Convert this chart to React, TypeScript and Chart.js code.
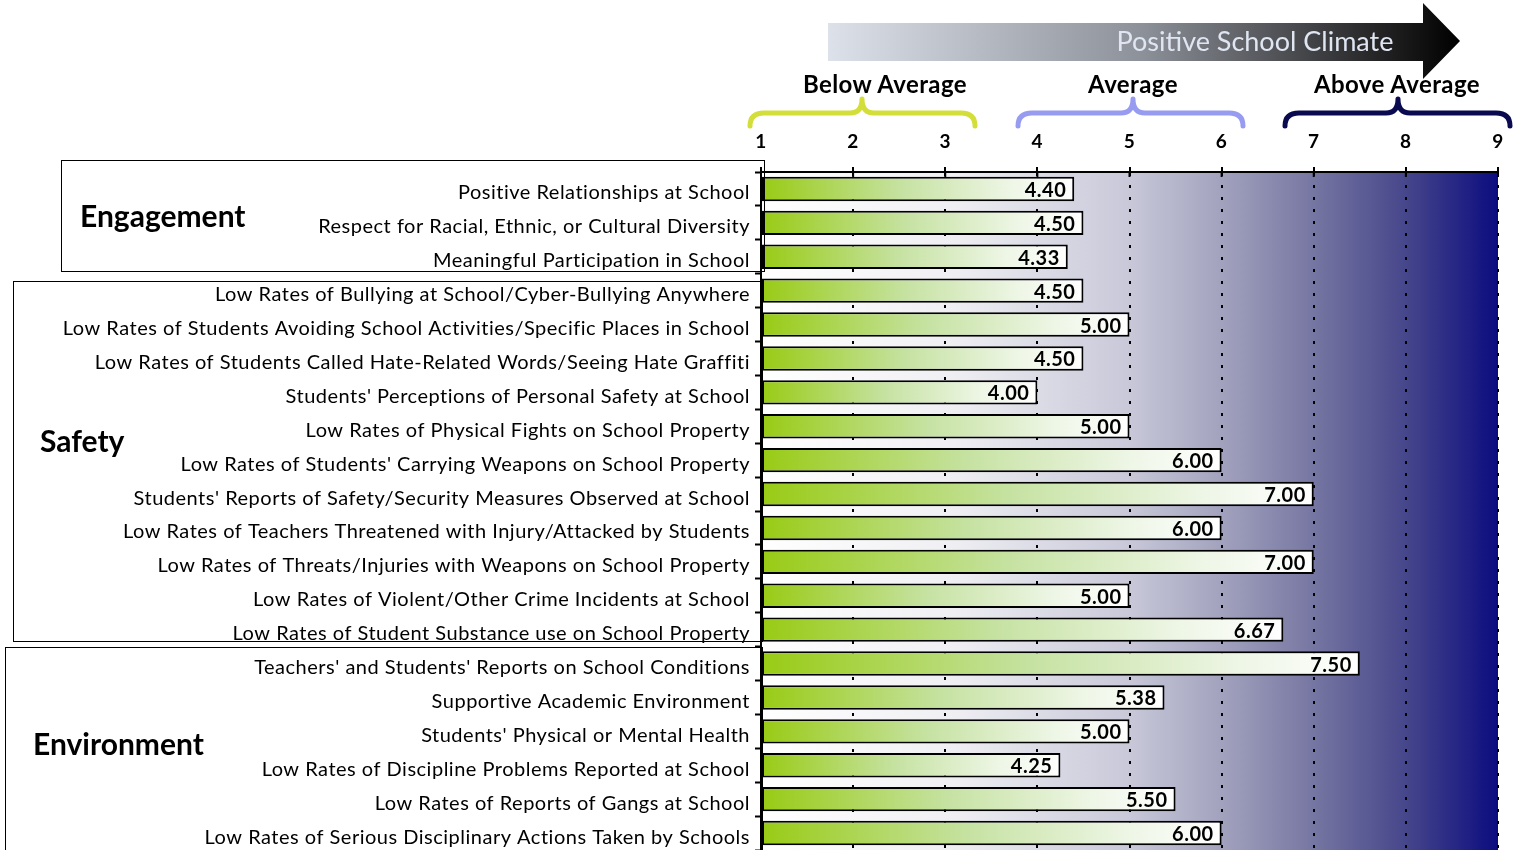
import React, { useEffect, useRef } from "react";
import { Chart, registerables } from "chart.js";

Chart.register(...registerables);

const categories: string[] = [
  "Positive Relationships at School",
  "Respect for Racial, Ethnic, or Cultural Diversity",
  "Meaningful Participation in School",
  "Low Rates of Bullying at School/Cyber-Bullying Anywhere",
  "Low Rates of Students Avoiding School Activities/Specific Places in School",
  "Low Rates of Students Called Hate-Related Words/Seeing Hate Graffiti",
  "Students' Perceptions of Personal Safety at School",
  "Low Rates of Physical Fights on School Property",
  "Low Rates of Students' Carrying Weapons on School Property",
  "Students' Reports of Safety/Security Measures Observed at School",
  "Low Rates of Teachers Threatened with Injury/Attacked by Students",
  "Low Rates of Threats/Injuries with Weapons on School Property",
  "Low Rates of Violent/Other Crime Incidents at School",
  "Low Rates of Student Substance use on School Property",
  "Teachers' and Students' Reports on School Conditions",
  "Supportive Academic Environment",
  "Students' Physical or Mental Health",
  "Low Rates of Discipline Problems Reported at School",
  "Low Rates of Reports of Gangs at School",
  "Low Rates of Serious Disciplinary Actions Taken by Schools",
];

const scores: number[] = [
  4.4, 4.5, 4.33, 4.5, 5.0, 4.5, 4.0, 5.0, 6.0, 7.0, 6.0, 7.0, 5.0, 6.67, 7.5,
  5.38, 5.0, 4.25, 5.5, 6.0,
];

const scaleMin = 1;
const scaleMax = 9;

const climateLevels: string[] = ["Below Average", "Average", "Above Average"];
const groupNames: string[] = ["Engagement", "Safety", "Environment"];
const arrowTitle = "Positive School Climate";

const FONT = "Lato, 'Open Sans', sans-serif";

const bgPlugin = {
  id: "bgGradient",
  beforeDraw(chart: any) {
    const { ctx, chartArea } = chart;
    if (!chartArea) return;
    try {
      (ctx as any).letterSpacing = "0.5px";
    } catch (e) {}
    const g = ctx.createLinearGradient(chartArea.left, 0, chartArea.right, 0);
    g.addColorStop(0, "#ffffff");
    g.addColorStop(0.25, "#f0f0f4");
    g.addColorStop(0.5, "#c8c8d9");
    g.addColorStop(0.625, "#a2a2be");
    g.addColorStop(0.75, "#7676a2");
    g.addColorStop(0.875, "#46468b");
    g.addColorStop(1, "#0c0c80");
    ctx.save();
    ctx.fillStyle = g;
    ctx.fillRect(chartArea.left, chartArea.top, chartArea.right - chartArea.left, chartArea.bottom - chartArea.top);
    ctx.restore();
  },
  beforeDatasetsDraw(chart: any) {
    const { ctx, chartArea, scales } = chart;
    const xs = scales.x;
    ctx.save();
    ctx.strokeStyle = "#000";
    ctx.lineWidth = 2;
    xs.ticks.forEach((_t: any, i: number) => {
      const px = xs.getPixelForTick(i);
      ctx.beginPath();
      ctx.moveTo(px, chartArea.top);
      ctx.lineTo(px, chartArea.top + 5);
      ctx.stroke();
    });
    ctx.restore();
  },
  afterDatasetsDraw(chart: any) {
    const { ctx } = chart;
    const meta = chart.getDatasetMeta(0);
    ctx.save();
    ctx.font = `bold 20px ${FONT}`;
    ctx.fillStyle = "#000";
    ctx.textAlign = "right";
    ctx.textBaseline = "middle";
    meta.data.forEach((el: any, i: number) => {
      ctx.fillText(scores[i].toFixed(2), el.x - 8, el.y + 1.5);
    });
    ctx.restore();
  },
};

function bracePath(x0: number, xm: number, x1: number): string {
  const yb = 126;
  const yh = 113;
  const yp = 99;
  return `M ${x0} ${yb} Q ${x0} ${yh} ${x0 + 14} ${yh} L ${xm - 12} ${yh} Q ${xm} ${yh} ${xm} ${yp} Q ${xm} ${yh} ${xm + 12} ${yh} L ${x1 - 14} ${yh} Q ${x1} ${yh} ${x1} ${yb}`;
}

export default function App() {
  const canvasRef = useRef<HTMLCanvasElement | null>(null);

  useEffect(() => {
    if (!canvasRef.current) return;
    const chart = new Chart(canvasRef.current, {
      type: "bar",
      data: {
        labels: categories,
        datasets: [
          {
            data: scores,
            base: scaleMin,
            barPercentage: 0.72,
            categoryPercentage: 1,
            borderColor: "#000",
            borderWidth: 2,
            borderSkipped: false,
            backgroundColor: (c: any) => {
              const ch = c.chart;
              if (!ch.chartArea || c.type !== "data") return "#b5d96a";
              const x0 = ch.scales.x.getPixelForValue(scaleMin);
              const x1 = ch.scales.x.getPixelForValue(c.raw as number);
              const g = ch.ctx.createLinearGradient(x0, 0, x1, 0);
              g.addColorStop(0, "#98cb14");
              g.addColorStop(0.45, "#c6e2a2");
              g.addColorStop(0.8, "#eef6e6");
              g.addColorStop(1, "#ffffff");
              return g;
            },
          } as any,
        ],
      },
      options: {
        indexAxis: "y",
        responsive: false,
        animation: false,
        devicePixelRatio: 1,
        layout: { padding: { left: 0, right: 21, top: 0, bottom: 0 } },
        plugins: { legend: { display: false }, tooltip: { enabled: false } },
        scales: {
          x: {
            type: "linear",
            position: "top",
            min: scaleMin,
            max: scaleMax,
            afterFit: (s: any) => {
              s.height = 172;
            },
            ticks: {
              stepSize: 1,
              color: "#000",
              padding: 14,
              font: { family: FONT, size: 19, weight: "bold" },
            },
            grid: {
              display: true,
              drawOnChartArea: true,
              drawTicks: true,
              tickLength: 5,
              color: "#000",
              lineWidth: 2,
              tickColor: "#000",
              tickWidth: 2,
            },
            border: { display: true, color: "#000", width: 2, dash: [3, 9] },
          },
          y: {
            type: "category",
            afterFit: (s: any) => {
              s.width = 761;
            },
            ticks: {
              color: "#000",
              padding: 5,
              labelOffset: 4,
              autoSkip: false,
              font: { family: FONT, size: 20 },
            },
            grid: {
              display: true,
              drawOnChartArea: false,
              drawTicks: true,
              tickLength: 6,
              tickColor: "#000",
              tickWidth: 2,
              offset: true,
            },
            border: { display: true, color: "#000", width: 2 },
          },
        },
      } as any,
      plugins: [bgPlugin],
    });
    return () => chart.destroy();
  }, []);

  const boxes = [
    { left: 61, top: 160, width: 704, height: 112 },
    { left: 13, top: 281, width: 750, height: 361 },
    { left: 5, top: 647, width: 758, height: 220 },
  ];
  const groupLabels = [
    { left: 80, top: 215 },
    { left: 40, top: 440 },
    { left: 33, top: 743 },
  ];

  return (
    <div style={{ position: "absolute", left: 0, top: 0, width: 1519, height: 850, overflow: "hidden", background: "#fff" }}>
      <canvas ref={canvasRef} width={1519} height={867} style={{ position: "absolute", left: 0, top: 0 }} />
      {boxes.map((b, i) => (
        <div
          key={"b" + i}
          style={{
            position: "absolute",
            left: b.left,
            top: b.top,
            width: b.width,
            height: b.height,
            border: "1px solid #000",
            boxSizing: "border-box",
            pointerEvents: "none",
          }}
        />
      ))}
      {groupLabels.map((g, i) => (
        <div
          key={"g" + i}
          style={{
            position: "absolute",
            left: g.left,
            top: g.top - 20,
            height: 40,
            lineHeight: "40px",
            fontFamily: FONT,
            fontWeight: 700,
            fontSize: 30,
            color: "#000",
            whiteSpace: "nowrap",
          }}
        >
          {groupNames[i]}
        </div>
      ))}
      <svg width={1519} height={134} style={{ position: "absolute", left: 0, top: 0 }}>
        <defs>
          <linearGradient id="arrowGrad" x1="828" y1="0" x2="1460" y2="0" gradientUnits="userSpaceOnUse">
            <stop offset="0" stopColor="#dde2ea" />
            <stop offset="0.5" stopColor="#8c9098" />
            <stop offset="0.85" stopColor="#2a2a2c" />
            <stop offset="1" stopColor="#000000" />
          </linearGradient>
        </defs>
        <path d="M 828 23 L 1423 23 L 1423 3 L 1460 41 L 1423 79 L 1423 61 L 828 61 Z" fill="url(#arrowGrad)" />
        <text x={1255} y={51} textAnchor="middle" fontFamily={FONT} fontSize={27} fill="#dfe6f2">
          {arrowTitle}
        </text>
        <path d={bracePath(750, 862, 975)} fill="none" stroke="#d3de3a" strokeWidth={5} strokeLinecap="round" strokeLinejoin="round" />
        <path d={bracePath(1018, 1133, 1243)} fill="none" stroke="#989cf0" strokeWidth={5} strokeLinecap="round" strokeLinejoin="round" />
        <path d={bracePath(1285, 1398, 1510)} fill="none" stroke="#0a0a50" strokeWidth={5} strokeLinecap="round" strokeLinejoin="round" />
        {climateLevels.map((t, i) => (
          <text
            key={t}
            x={[885, 1133, 1397][i]}
            y={93}
            textAnchor="middle"
            fontFamily={FONT}
            fontWeight={700}
            fontSize={24}
            letterSpacing={0.4}
            fill="#000"
          >
            {t}
          </text>
        ))}
      </svg>
    </div>
  );
}
